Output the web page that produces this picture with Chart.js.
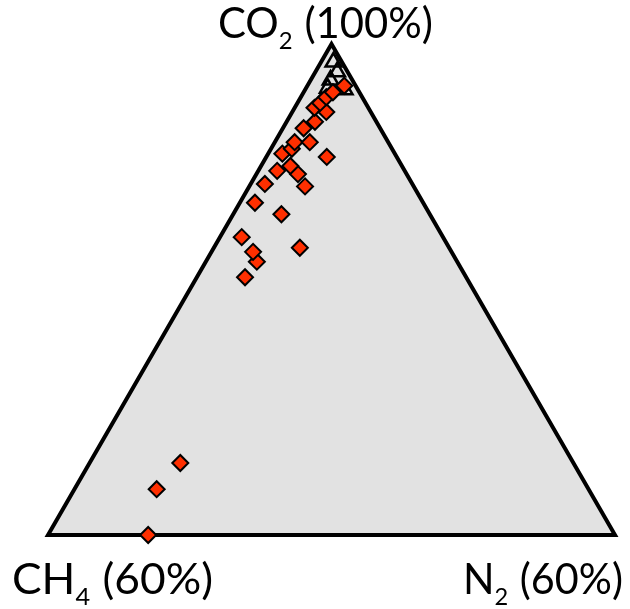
<!DOCTYPE html>
<html>
<head>
<meta charset="utf-8">
<script src="https://cdn.jsdelivr.net/npm/chart.js@4/dist/chart.umd.min.js"></script>
<style>
  html, body { margin: 0; padding: 0; background: #ffffff; }
  canvas { display: block; }
</style>
</head>
<body>
<canvas id="ternary" width="630" height="609"></canvas>
<script>
// Gas composition (%) of each sample: CO2, CH4, N2 (rows sum to 100)
const sampleCO2 = [40.0, 45.6, 48.8, 71.5, 73.4, 74.6, 76.4, 75.1, 79.2, 80.6,
                   82.9, 84.5, 82.6, 84.1, 85.1, 86.6, 87.2, 88.0, 88.0, 86.2,
                   89.7, 90.5, 92.2, 91.7, 92.8, 93.5, 94.9, 94.1];
const sampleCH4 = [49.4, 45.7, 41.6, 23.4, 21.2, 21.0, 21.3, 15.8, 15.7, 17.8,
                   15.6, 13.5, 11.5, 11.5, 11.8, 11.9, 10.6,  9.9,  8.3,  7.4,
                    8.1,  6.5,  5.7,  4.7,  4.8,  3.8,  1.2,  2.8];
const sampleN2  = [10.6,  8.7,  9.6,  5.1,  5.4,  4.4,  2.3,  9.1,  5.1,  1.6,
                    1.5,  2.0,  5.9,  4.4,  3.1,  1.5,  2.2,  2.1,  3.7,  6.4,
                    2.2,  3.0,  2.1,  3.6,  2.4,  2.7,  3.9,  3.1];

// Reference gases, plotted as open triangles
const refCO2 = [97.8, 96.6, 95.6, 94.6, 94.4];
const refCH4 = [ 0.9,  1.1,  2.3,  3.1,  1.4];
const refN2  = [ 1.3,  2.3,  2.1,  2.3,  4.2];

// Corner labels: [main text, subscript, rest]
const apexLabel  = ['CO', '2', ' (100%)'];
const leftLabel  = ['CH', '4', ' (60%)'];
const rightLabel = ['N', '2', ' (60%)'];

// The diagram spans CO2 40–100 %, CH4 0–60 %, N2 0–60 %
const CO2_MIN = 40, SPAN = 60;
const H = Math.sqrt(3) / 2;

function toXY(co2, ch4, n2) {
  const a = (co2 - CO2_MIN) / SPAN;   // distance towards the CO2 apex
  const r = n2 / SPAN;                // distance towards the N2 corner
  return { x: r + a / 2, y: a * H };
}

const samplePts = sampleCO2.map((c, i) => toXY(c, sampleCH4[i], sampleN2[i]));
const refPts = refCO2.map((c, i) => toXY(c, refCH4[i], refN2[i]));

// Triangle frame, filled grey with a black outline
const framePlugin = {
  id: 'frame',
  beforeDatasetsDraw(chart) {
    const { ctx, scales: { x, y } } = chart;
    const corners = [[0, 0], [0.5, H], [1, 0]];
    ctx.save();
    ctx.beginPath();
    corners.forEach(([cx, cy], i) => {
      const px = x.getPixelForValue(cx), py = y.getPixelForValue(cy);
      if (i === 0) ctx.moveTo(px, py); else ctx.lineTo(px, py);
    });
    ctx.closePath();
    ctx.fillStyle = '#e2e2e2';
    ctx.fill();
    ctx.lineWidth = 4;
    ctx.lineJoin = 'miter';
    ctx.strokeStyle = '#000000';
    ctx.stroke();
    ctx.restore();
  }
};

// Corner labels with subscripts, fitted to a given width
function drawLabel(ctx, parts, left, baseline, width) {
  const mainFont = '42px Lato, "Open Sans", sans-serif';
  const subFont = '24px Lato, "Open Sans", sans-serif';
  ctx.font = mainFont;
  const w1 = ctx.measureText(parts[0]).width;
  const w3 = ctx.measureText(parts[2]).width;
  ctx.font = subFont;
  const w2 = ctx.measureText(parts[1]).width + 1;
  const sx = width / (w1 + w2 + w3);
  ctx.save();
  ctx.translate(left, baseline);
  ctx.scale(sx, 1);
  ctx.fillStyle = '#000000';
  ctx.textBaseline = 'alphabetic';
  ctx.textAlign = 'left';
  ctx.font = mainFont;
  ctx.fillText(parts[0], 0, 0);
  ctx.font = subFont;
  ctx.fillText(parts[1], w1, 11);
  ctx.font = mainFont;
  ctx.fillText(parts[2], w1 + w2, 0);
  ctx.restore();
}

const labelPlugin = {
  id: 'cornerLabels',
  afterDraw(chart) {
    const ctx = chart.ctx;
    drawLabel(ctx, apexLabel, 218, 38, 215);
    drawLabel(ctx, leftLabel, 12, 594, 201);
    drawLabel(ctx, rightLabel, 463, 594, 160);
  }
};

new Chart(document.getElementById('ternary'), {
  type: 'scatter',
  data: {
    datasets: [
      {
        label: 'Samples',
        data: samplePts,
        pointStyle: 'rectRot',
        pointRadius: 8,
        pointHoverRadius: 8,
        backgroundColor: '#ff2f00',
        borderColor: '#000000',
        borderWidth: 2,
        clip: false,
        order: 1
      },
      {
        label: 'Reference',
        data: refPts,
        pointStyle: 'triangle',
        pointRadius: 9,
        pointHoverRadius: 9,
        backgroundColor: 'rgba(255,255,255,0)',
        borderColor: '#000000',
        borderWidth: 2.5,
        clip: false,
        order: 2
      }
    ]
  },
  options: {
    responsive: false,
    devicePixelRatio: 1,
    animation: false,
    layout: { padding: { left: 48, right: 15, top: 44, bottom: 74 } },
    scales: {
      x: { type: 'linear', min: 0, max: 1, display: false },
      y: { type: 'linear', min: 0, max: H, display: false }
    },
    plugins: {
      legend: { display: false },
      tooltip: { enabled: false }
    }
  },
  plugins: [framePlugin, labelPlugin]
});
</script>
</body>
</html>
